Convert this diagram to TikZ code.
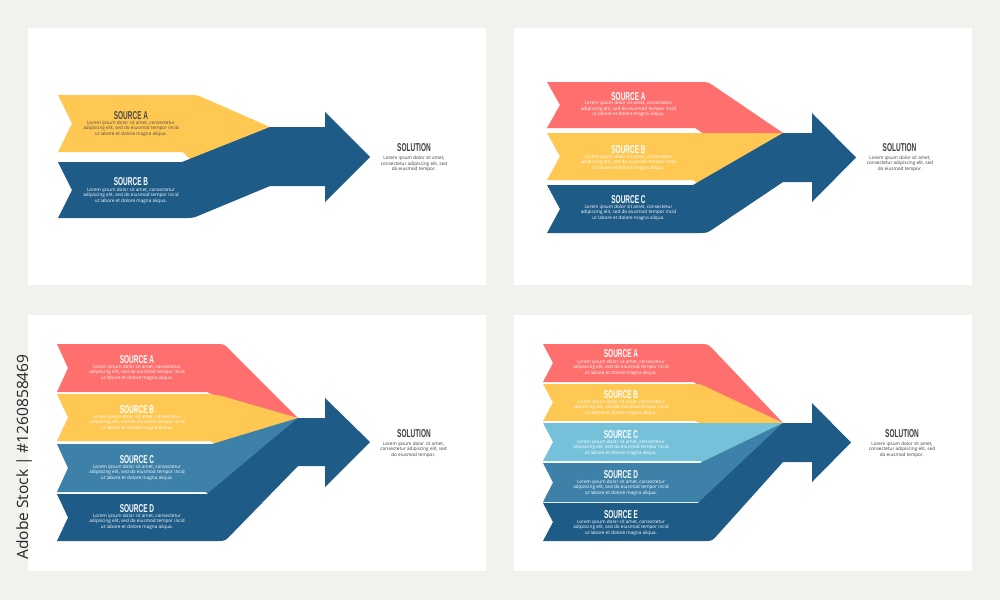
\documentclass[tikz,border=0pt]{standalone}
\usepackage{fontspec}
\setmainfont{Open Sans}
\newfontfamily\ttlfont[FakeStretch=0.57]{Liberation Sans}
\newfontfamily\bodyfont{Open Sans}
\usetikzlibrary{calc}
\definecolor{bgc}{HTML}{F3F1EE}
\definecolor{yel}{HTML}{FFC853}
\definecolor{redc}{HTML}{FF6F6E}
\definecolor{dkb}{HTML}{1E5B86}
\definecolor{stb}{HTML}{3E81A8}
\definecolor{lbl}{HTML}{76C1DA}
\definecolor{soltxt}{HTML}{3C3C3C}
\definecolor{dktxt}{HTML}{4A4A4A}
\definecolor{sidetxt}{HTML}{262626}
\newcommand{\notchw}{14}
\newcommand{\srcband}[8]{%
  \fill[#1] (#2,#3) -- ($(#5,#3)!#6pt!(#2,#3)$) .. controls (#5,#3) .. ($(#5,#3)!#6pt!(P)$) -- (P) -- (#7+15,#8+5) -- (#7,#4) -- (#2,#4) -- (#2+\notchw,{(#3+#4)/2}) -- cycle;}
\newcommand{\loremtxt}{Lorem ipsum dolor sit amet, consectetur\\adipiscing elit, sed do eiusmod tempor incid\\ut labore et dolore magna aliqua.}
\newcommand{\solbody}{Lorem ipsum dolor sit amet,\\consectetur adipiscing elit, sed\\do eiusmod tempor.}
\tikzset{
  panel/.style={fill=white},
  ttl/.style={inner sep=0pt, text=white, font=\ttlfont\bfseries\fontsize{11.4}{11.4}\selectfont},
  bdy/.style={inner sep=0pt, text=white, align=center, font=\bodyfont\fontsize{4.65}{5.5}\selectfont},
  solttl/.style={ttl, text=soltxt},
  solbdy/.style={bdy, text=soltxt},
}
\begin{document}
\begin{tikzpicture}[x=1pt,y=-1pt]
\useasboundingbox (0,0) rectangle (1000,600);
\fill[bgc] (0,0) rectangle (1000,600);
% panels
\fill[panel] (28,28) rectangle (486,285);
\fill[panel] (514,28) rectangle (972,285);
\fill[panel] (28,315) rectangle (486,571);
\fill[panel] (514,315) rectangle (972,571);
% side text
\node[rotate=90, text=sidetxt, font=\bodyfont\fontsize{15.5}{16}\selectfont, inner sep=0pt] (stock) at (24,457) {Adobe Stock | \#1260858469};

% ===== Panel 1 =====
\renewcommand{\notchw}{14}
\coordinate (P) at (270,127);
\srcband{yel}{58}{95}{152}{197}{8}{183}{162}
\fill[dkb] (58,162) -- (182,162) -- (P) -- (325,127) -- (325,112) -- (370,157) -- (325,202) -- (325,186) -- (270,186) -- ($(193,218)!8pt!(270,186)$) .. controls (193,218) .. ($(193,218)!8pt!(58,218)$) -- (58,218) -- (72,190) -- cycle;
\node[ttl, text=dktxt] (p1ta) at (131,116) {SOURCE A};
\node[bdy, text=dktxt] (p1ba) at (131,128.5) {\loremtxt};
\node[ttl] (p1tb) at (131,182) {SOURCE B};
\node[bdy] (p1bb) at (131,195.5) {\loremtxt};
\node[solttl] (p1ts) at (414,148) {SOLUTION};
\node[solbdy] (p1bs) at (414,164) {\solbody};

% ===== Panel 2 =====
\renewcommand{\notchw}{13}
\coordinate (P) at (783,133);
\srcband{redc}{547}{82}{128}{708}{8}{695}{133}
\srcband{yel}{547}{133}{180}{760}{0}{693}{185}
\fill[dkb] (547,185) -- (693,185) -- (P) -- (812,133) -- (812,113) -- (856,157.5) -- (812,202) -- (812,182) -- (783,182) -- ($(707,233)!8pt!(783,182)$) .. controls (707,233) .. ($(707,233)!8pt!(547,233)$) -- (547,233) -- (560,209) -- cycle;
\node[ttl] (p2ta) at (628.5,96.7) {SOURCE A};
\node[bdy] (p2ba) at (628.5,109) {\loremtxt};
\node[ttl] (p2tb) at (628.5,150) {SOURCE B};
\node[bdy] (p2bb) at (628.5,162.7) {\loremtxt};
\node[ttl] (p2tc) at (628.5,200) {SOURCE C};
\node[bdy] (p2bc) at (628.5,212.7) {\loremtxt};
\node[solttl] (p2ts) at (899.5,148) {SOLUTION};
\node[solbdy] (p2bs) at (900,163.7) {\solbody};

% ===== Panel 3 =====
\renewcommand{\notchw}{11}
\coordinate (P) at (298,418);
\srcband{redc}{57}{344}{392}{224}{8}{207}{394}
\srcband{yel}{57}{394}{441}{215}{6}{210}{444}
\srcband{stb}{57}{444}{492}{212}{0}{205}{494}
\fill[dkb] (57,494) -- (207,494) -- (P) -- (325,418) -- (325,398) -- (370,442) -- (325,487) -- (325,466) -- (298,466) -- ($(225,541)!8pt!(298,466)$) .. controls (225,541) .. ($(225,541)!8pt!(57,541)$) -- (57,541) -- (68,517.5) -- cycle;
\node[ttl] (p3ta) at (137,360) {SOURCE A};
\node[bdy] (p3ba) at (137,372.7) {\loremtxt};
\node[ttl] (p3tb) at (137,410) {SOURCE B};
\node[bdy] (p3bb) at (137,422.7) {\loremtxt};
\node[ttl] (p3tc) at (137,460) {SOURCE C};
\node[bdy] (p3bc) at (137,472.3) {\loremtxt};
\node[ttl] (p3td) at (137,509) {SOURCE D};
\node[bdy] (p3bd) at (137,521.7) {\loremtxt};
\node[solttl] (p3ts) at (414,433.5) {SOLUTION};
\node[solbdy] (p3bs) at (413.5,449.5) {\solbody};

% ===== Panel 4 =====
\renewcommand{\notchw}{10}
\coordinate (P) at (783,423);
\srcband{redc}{543}{344}{382}{708}{8}{693}{384}
\srcband{yel}{543}{384}{421}{700}{6}{695}{423}
\srcband{lbl}{543}{423}{461}{760}{0}{700}{463}
\srcband{stb}{543}{463}{502}{700}{0}{698}{503}
\fill[dkb] (543,503) -- (698,503) -- (P) -- (812,423) -- (812,403) -- (851,442.5) -- (812,482) -- (812,462) -- (783,462) -- ($(712,541)!8pt!(783,462)$) .. controls (712,541) .. ($(712,541)!8pt!(543,541)$) -- (543,541) -- (553,522) -- cycle;
\node[ttl] (p4ta) at (621,354) {SOURCE A};
\node[bdy] (p4ba) at (621,367.3) {\loremtxt};
\node[ttl] (p4tb) at (621,394.5) {SOURCE B};
\node[bdy] (p4bb) at (621,407.7) {\loremtxt};
\node[ttl] (p4tc) at (621,434.5) {SOURCE C};
\node[bdy] (p4bc) at (621,447.7) {\loremtxt};
\node[ttl] (p4td) at (621,475) {SOURCE D};
\node[bdy] (p4bd) at (621,487.7) {\loremtxt};
\node[ttl] (p4te) at (621,514.3) {SOURCE E};
\node[bdy] (p4be) at (621,527.3) {\loremtxt};
\node[solttl] (p4ts) at (902,433.7) {SOLUTION};
\node[solbdy] (p4bs) at (902,449.3) {\solbody};
\end{tikzpicture}
\end{document}
